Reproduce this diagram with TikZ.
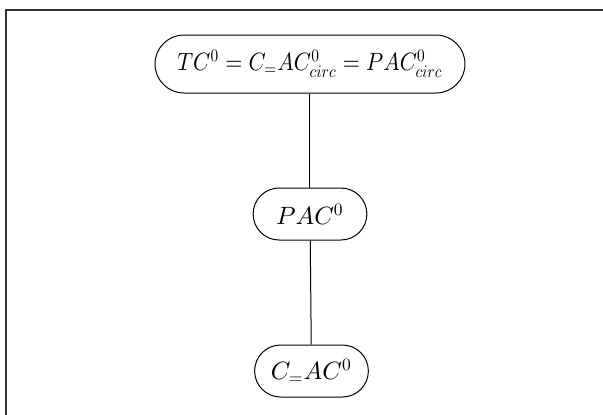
\documentclass[tikz,border=0pt]{standalone}
\usetikzlibrary{positioning}
% scaled design sizes for sub- and superscripts
\DeclareFontShape{OML}{cmm}{m}{it}{<->cmmi10}{}
\DeclareFontShape{OT1}{cmr}{m}{n}{<->cmr10}{}

\begin{document}
\begin{tikzpicture}[x=0.4pt,y=-0.4pt,-,thin,node distance=60pt,class node/.style={rectangle,rounded corners=10.4pt,draw,inner sep=0pt,minimum width=45.5pt,minimum height=20.8pt,font=\normalsize}]
    \useasboundingbox (0,0) rectangle (603,415);
    \draw[line width=0.8pt,black!80] (603,10) -- (6,10) -- (6,415);

    \node[class node,minimum width=124pt,minimum height=23.2pt,rounded corners=11.6pt] (tc) at (310,64) {\scalebox{0.88}[1]{$TC^0 = C_{=}AC^0_{circ} = PAC^0_{circ}$}};
    \node[class node] (pac) [below of = tc]{$PAC^0$};
    \node[class node] (cac) [below of = pac, xshift=0.6pt, yshift=-2.8pt]{$C_{=}AC^0$};

    \path[every node/.style={font=\small}]
        (tc) edge (pac)
        (pac) edge (cac)
        ;
\end{tikzpicture}
\end{document}
